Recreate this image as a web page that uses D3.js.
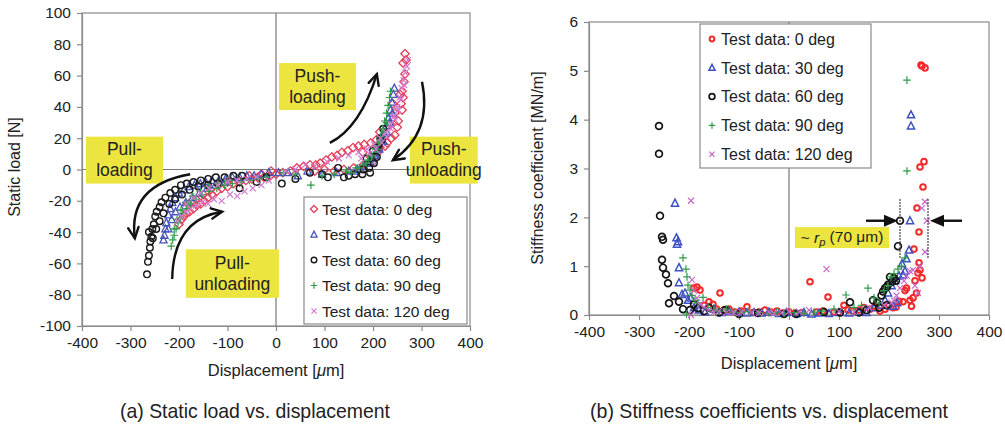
<!DOCTYPE html>
<html>
<head>
<meta charset="utf-8">
<script src="https://cdn.jsdelivr.net/npm/d3@7"></script>
<style>
  body { margin: 0; background: #fff; }
  svg text { font-family: "Liberation Sans", Arial, sans-serif; fill: #222; }
</style>
</head>
<body>
<svg id="fig" width="1005" height="434"></svg>
<script>
// ---- data: (a) static load [N] vs displacement [um]
const seriesNames = ["Test data: 0 deg", "Test data: 30 deg", "Test data: 60 deg", "Test data: 90 deg", "Test data: 120 deg"];

const load0 = [[-200,-35],[-195,-32],[-190,-30],[-185,-28],[-178,-27],[-170,-25],[-163,-23],[-155,-22],[-148,-20],[-140,-18],[-132,-16],[-122,-14],[-112,-12],[-100,-11],[-88,-9],[-75,-8],[-62,-7],[-50,-6],[-38,-5],[-25,-5],[-12,-4],[0,-3],[-180,-22],[-165,-19],[-150,-16],[-135,-13],[-118,-10],[-100,-8],[-80,-6],[-55,-4],[-30,-3],[-10,-1],
  [14,-2],[30,-1],[43,1],[57,2],[70,3],[82,3],[91,4],[103,6],[115,8],[126,9],[136,11],[148,12],[159,14],[170,15],[182,16],[195,17],[207,19],[214,14],[229,17],[245,22],[252,31],[260,38],[262,46],[260,50],[266,61],[262,68],[266,74],[268,70],[264,56],[258,42],[250,27],[238,20],[225,15],[210,11],[195,8],[179,11],[214,24],[235,29],[245,36],[241,42],[256,48],[200,5],[180,3],[160,1],[140,0],[120,-1],[100,0],[80,-1]];
const load30 = [[-232,-45],[-230,-42],[-228,-38],[-226,-34],[-222,-29],[-218,-25],[-214,-21],[-208,-18],[-200,-15],[-190,-13],[-180,-11],[-168,-10],[-156,-9],[-145,-8],[-132,-7],[-118,-7],[-104,-6],[-90,-5],[-75,-5],[-60,-4],[-45,-4],[-30,-3],[-15,-2],[-222,-38],[-215,-32],[-207,-27],[-198,-24],[-186,-21],[-172,-18],[-158,-15],[-142,-12],[-125,-10],[-105,-8],
  [5,-2],[25,-2],[45,-4],[65,-1],[95,-3],[125,-2],[150,-1],[168,0],[180,2],[190,4],[198,7],[205,10],[212,14],[218,18],[223,23],[228,28],[232,33],[236,38],[239,43],[242,48],[244,52],[240,36],[234,30],[228,24],[221,18],[213,13],[204,9],[194,5],[182,2],[165,-1]];
const load60 = [[-266,-67],[-264,-59],[-262,-55],[-260,-50],[-259,-46],[-257,-43],[-262,-40],[-255,-38],[-252,-35],[-249,-30],[-246,-27],[-240,-24],[-236,-21],[-228,-18],[-218,-15],[-208,-13],[-196,-10],[-184,-9],[-170,-8],[-155,-7],[-140,-6],[-124,-5],[-106,-5],[-88,-4],[-70,-4],[-254,-44],[-247,-38],[-240,-33],[-232,-28],[-220,-22],[-208,-19],[-194,-16],[-178,-13],[-160,-11],[-140,-10],[-120,-9],[-75,-12],[-40,-8],[-20,-5],[12,-9],
  [40,-6],[70,-2],[95,-3],[107,-5],[128,1],[140,-5],[163,-3],[180,0],[187,7],[194,-2],[200,12],[208,14],[212,16],[215,20],[218,19],[221,26],[208,8],[202,4],[192,1],[178,-3],[150,-4]];
const load90 = [[-216,-49],[-213,-45],[-210,-42],[-206,-38],[-202,-34],[-197,-31],[-192,-28],[-185,-25],[-176,-22],[-165,-19],[-152,-16],[-138,-14],[-122,-12],[-106,-10],[-90,-9],[-72,-8],[-55,-7],[-38,-6],[-20,-5],[-210,-38],[-204,-32],[-196,-26],[-186,-21],[-172,-17],[-156,-14],[-140,-11],[-120,-9],[-100,-7],
  [15,-2],[40,-3],[72,-10],[95,-4],[120,-3],[145,-1],[165,1],[180,3],[190,6],[198,9],[205,13],[211,17],[216,21],[220,26],[224,31],[228,36],[231,41],[234,46],[236,50],[228,30],[222,24],[215,18],[207,13],[197,8],[186,4],[172,1],[155,-2]];
const load120 = [[-202,-33],[-195,-30],[-186,-27],[-176,-25],[-165,-23],[-152,-21],[-140,-22],[-128,-19],[-112,-20],[-95,-16],[-80,-17],[-65,-14],[-48,-12],[-30,-10],[-15,-7],[-185,-22],[-170,-18],[-155,-15],[-138,-12],[-120,-10],[-100,-8],[-80,-7],[-60,-6],[-40,-5],
  [20,-1],[40,0],[60,3],[80,2],[105,5],[130,7],[150,9],[170,11],[188,13],[202,16],[215,20],[226,24],[236,29],[244,34],[250,40],[255,46],[259,52],[263,57],[267,62],[270,66],[272,70],[264,54],[258,45],[252,38],[245,32],[237,26],[228,21],[218,17],[206,13],[192,10],[176,7]];

// ---- data: (b) stiffness coefficient [MN/m] vs displacement [um]
const stiff0 = [[-190,0.55],[-184,0.57],[-178,0.51],[-170,0.2],[-160,0.27],[-152,0.22],[-145,0.12],[-138,0.45],[-130,0.1],[-120,0.12],[-108,0.06],[-96,0.08],[-84,0.17],[-72,0.05],[-60,0.06],[-48,0.1],[-36,0.06],[-24,0.08],[-12,0.04],[0,0.06],[12,0.04],[26,0.05],[42,0.68],[55,0.06],[68,0.08],[78,0.37],[90,0.06],[100,0.05],[110,0.2],[118,0.1],[128,0.08],[140,0.1],[150,0.15],[162,0.12],[172,0.18],[182,0.08],[192,0.12],[200,0.2],[208,0.15],[214,0.16],[220,0.28],[228,0.27],[235,0.55],[242,0.3],[248,0.35],[250,1.35],[252,0.7],[256,2.19],[258,0.86],[260,1.07],[260,1.7],[262,0.92],[266,0.76],[268,2.62],[262,3.03],[270,3.14],[264,5.12],[272,5.06],[266,5.1],[245,0.18],[232,0.5],[255,0.45]];
const stiff30 = [[-228,2.29],[-225,1.58],[-224,1.45],[-222,1.5],[-220,0.97],[-220,0.66],[-214,0.42],[-208,0.45],[-202,0.3],[-196,0.35],[-190,0.15],[-180,0.1],[-168,0.06],[-150,0.12],[-135,0.05],[-120,0.08],[-100,0.06],[-85,0.04],[-70,0.05],[-55,0.04],[-40,0.06],[-20,0.03],[-5,0.05],[15,0.03],[30,0.05],[45,0.02],[60,0.04],[80,0.03],[100,0.05],[120,0.04],[140,0.06],[155,0.05],[170,0.15],[182,0.2],[192,0.3],[198,0.45],[205,0.6],[212,0.7],[220,0.8],[226,1.05],[228,0.82],[232,0.9],[235,1.15],[240,1.33],[242,1.93],[244,3.87],[244,4.1],[216,0.25],[208,0.18]];
const stiff60 = [[-260,3.87],[-260,3.3],[-258,2.03],[-254,1.6],[-252,1.54],[-254,1.13],[-252,0.97],[-246,0.83],[-242,0.65],[-230,0.39],[-240,0.24],[-220,0.27],[-212,0.12],[-198,0.1],[-190,0.22],[-182,0.14],[-170,0.08],[-160,0.15],[-140,0.05],[-128,0.1],[-100,0.02],[-62,0.04],[-10,0.02],[15,0.02],[70,0.06],[102,0.05],[122,0.26],[140,0.05],[155,0.1],[168,0.3],[176,0.25],[185,0.4],[188,0.48],[192,0.55],[196,0.58],[198,0.62],[202,0.78],[206,0.68],[210,0.75],[214,0.7],[218,1.41],[222,1.93],[180,0.15],[195,0.2]];
const stiff90 = [[-212,1.17],[-206,0.94],[-204,0.78],[-202,0.61],[-198,0.51],[-194,0.4],[-188,0.3],[-182,0.25],[-172,0.36],[-162,0.15],[-150,0.1],[-140,0.08],[-125,0.12],[-110,0.06],[-95,0.05],[-80,0.07],[-60,0.05],[-40,0.04],[-25,0.06],[-10,0.03],[10,0.05],[30,0.04],[50,0.06],[66,0.08],[90,0.12],[114,0.41],[130,0.15],[145,0.2],[158,0.55],[170,0.35],[180,0.25],[190,0.5],[198,0.6],[204,0.78],[210,0.85],[218,0.94],[225,1.0],[232,1.17],[236,2.95],[236,4.81],[-205,0.02]];
const stiff120 = [[-196,2.34],[-194,0.72],[-190,0.5],[-184,0.35],[-178,0.22],[-170,0.16],[-160,0.1],[-150,0.06],[-140,0.08],[-125,0.05],[-110,0.04],[-95,0.06],[-75,0.05],[-60,0.04],[-40,0.06],[-30,0.03],[-15,0.05],[0,0.07],[20,0.06],[40,0.1],[75,0.94],[100,0.07],[130,0.06],[160,0.15],[190,0.2],[205,0.25],[215,0.4],[222,0.55],[230,0.7],[236,0.8],[242,0.9],[248,0.92],[252,0.6],[258,0.45],[266,2.19],[272,2.32],[276,1.93],[272,1.29],[262,1.0],[-196,0.0],[210,0.3]];

const xTicks = [-400, -300, -200, -100, 0, 100, 200, 300, 400];
const loadTicks = [-100, -80, -60, -40, -20, 0, 20, 40, 60, 80, 100];
const stiffTicks = [0, 1, 2, 3, 4, 5, 6];

// annotation boxes on (a): [x0, x1, y0, y1, line1, line2]
const loadNotes = [
  [6, 165, 68, 38, "Push-", "loading"],
  [-392, -233, 21, -9, "Pull-", "loading"],
  [276, 416, 21, -9, "Push-", "unloading"],
  [-186, 6, -51, -82, "Pull-", "unloading"]
];
// curved arrows on (a): [start, control, end]
const loadArrows = [
  [[111, 17], [174, 27], [208, 61]],
  [[301, 56], [323, 23], [241, 6]],
  [[-177, -3], [-306, -10], [-291, -44]],
  [[-214, -70], [-212, -32], [-111, -27]]
];
// r_p marker on (b)
const rpLines = [222, 278];
const rpRange = [1.17, 2.4];
const rpArrowY = 1.93;

const svg = d3.select("#fig");
svg.append("rect").attr("width", 1005).attr("height", 434).attr("fill", "#fff");

function markerPath(type, s) {
  if (type === "diamond") return `M0,${-s}L${s},0L0,${s}L${-s},0Z`;
  if (type === "triangle") return `M0,${-s}L${s * 0.9},${s * 0.75}L${-s * 0.9},${s * 0.75}Z`;
  if (type === "circle") return `M${s},0A${s},${s} 0 1,1 ${-s},0A${s},${s} 0 1,1 ${s},0Z`;
  if (type === "plus") return `M${-s},0H${s}M0,${-s}V${s}`;
  return `M${-s},${-s}L${s},${s}M${-s},${s}L${s},${-s}`;
}

function drawChart(opt) {
  const g = svg.append("g");
  const x = d3.scaleLinear().domain([-400, 400]).range(opt.xr);
  const y = d3.scaleLinear().domain(opt.yd).range(opt.yr);

  // frame
  g.append("rect").attr("x", opt.xr[0]).attr("y", opt.yr[1])
    .attr("width", opt.xr[1] - opt.xr[0]).attr("height", opt.yr[0] - opt.yr[1])
    .attr("fill", "none").attr("stroke", "#8a8a8a").attr("stroke-width", 1.2);

  // zero lines
  g.append("line").attr("x1", x(0)).attr("x2", x(0)).attr("y1", opt.yr[1]).attr("y2", opt.yr[0])
    .attr("stroke", "#777").attr("stroke-width", 1.2);
  if (opt.yd[0] < 0) {
    g.append("line").attr("x1", opt.xr[0]).attr("x2", opt.xr[1]).attr("y1", y(0)).attr("y2", y(0))
      .attr("stroke", "#777").attr("stroke-width", 1.2);
  }

  const fmt = d => String(d);
  const ax = g.append("g").attr("transform", `translate(0,${opt.yr[0]})`)
    .call(d3.axisBottom(x).tickValues(xTicks).tickFormat(fmt).tickSize(5).tickSizeOuter(0).tickPadding(6));
  const ay = g.append("g").attr("transform", `translate(${opt.xr[0]},0)`)
    .call(d3.axisLeft(y).tickValues(opt.yTicks).tickFormat(fmt).tickSize(5).tickSizeOuter(0).tickPadding(6));
  [ax, ay].forEach(a => {
    a.select(".domain").attr("stroke", "#8a8a8a").attr("stroke-width", 1.2);
    a.selectAll(".tick line").attr("stroke", "#8a8a8a").attr("stroke-width", 1.2);
    a.selectAll(".tick text").attr("font-size", 15.5).attr("fill", "#222")
      .style("font-family", "'Liberation Sans', Arial, sans-serif");
  });

  // annotations behind the points
  if (opt.before) opt.before(g, x, y);

  // points
  opt.series.forEach((s, i) => {
    g.append("g").selectAll("path").data(s.data).join("path")
      .attr("transform", d => `translate(${x(d[0])},${y(d[1])})`)
      .attr("d", markerPath(s.type, s.size))
      .attr("fill", "none").attr("stroke", s.color).attr("stroke-width", s.sw);
  });

  if (opt.after) opt.after(g, x, y);

  // legend
  const L = opt.legend;
  g.append("rect").attr("x", L.x).attr("y", L.y).attr("width", L.w).attr("height", L.h)
    .attr("fill", "#fff").attr("stroke", "#8a8a8a").attr("stroke-width", 1.2);
  opt.series.forEach((s, i) => {
    const yy = L.y0 + i * L.dy;
    g.append("path").attr("transform", `translate(${L.mx},${yy})`)
      .attr("d", markerPath(s.type, s.size * 0.85))
      .attr("fill", "none").attr("stroke", s.color).attr("stroke-width", s.sw);
    g.append("text").attr("x", L.tx).attr("y", yy).attr("dy", "0.36em")
      .attr("font-size", L.fs).text(seriesNames[i]);
  });

  // axis titles
  const xt = g.append("text").attr("x", x(0)).attr("y", opt.xTitleY)
    .attr("text-anchor", "middle").attr("font-size", 16.5);
  xt.append("tspan").text(opt.xTitle);
  xt.append("tspan").attr("font-style", "italic").text("\u03bc");
  xt.append("tspan").text("m]");

  g.append("text").attr("transform", `translate(${opt.yTitleX},${opt.yTitleY}) rotate(-90)`)
    .attr("text-anchor", "middle").attr("font-size", 16).text(opt.yTitle);

  // caption: a condensed face squeezed to the reference width
  g.append("text").attr("x", opt.capX).attr("y", 418).attr("text-anchor", "middle")
    .attr("font-size", 21)
    .attr("textLength", opt.capW).attr("lengthAdjust", "spacingAndGlyphs")
    .text(opt.caption);
}

const yellow = "#ece53f";

function arrowHead(g, tip, from, len, ang) {
  const a = Math.atan2(tip[1] - from[1], tip[0] - from[0]);
  const p1 = [tip[0] - len * Math.cos(a - ang), tip[1] - len * Math.sin(a - ang)];
  const p2 = [tip[0] - len * Math.cos(a + ang), tip[1] - len * Math.sin(a + ang)];
  g.append("path").attr("d", `M${p1}L${tip}L${p2}`)
    .attr("fill", "none").attr("stroke", "#111").attr("stroke-width", 2.4)
    .attr("stroke-linejoin", "miter").attr("stroke-linecap", "round");
}

drawChart({
  xr: [82, 470], yd: [-100, 100], yr: [326, 13], yTicks: loadTicks,
  xTitle: "Displacement  [", xTitleY: 376,
  yTitle: "Static load  [N]", yTitleX: 20, yTitleY: 167,
  caption: "(a) Static load vs. displacement", capX: 255, capW: 270,
  series: [
    { data: load0, type: "diamond", size: 4.2, color: "#e5405a", sw: 1.3 },
    { data: load30, type: "triangle", size: 4, color: "#4654bd", sw: 1.3 },
    { data: load60, type: "circle", size: 3.3, color: "#1a1a1a", sw: 1.4 },
    { data: load90, type: "plus", size: 3.8, color: "#2f9a48", sw: 1.2 },
    { data: load120, type: "x", size: 3, color: "#d27ad0", sw: 1.2 }
  ],
  legend: { x: 304, y: 197, w: 163, h: 127, y0: 209, dy: 25.5, mx: 314, tx: 322, fs: 15.5 },
  before: (g, x, y) => {
    loadNotes.forEach(n => {
      const x0 = x(n[0]), x1 = x(n[1]), y0 = y(n[2]), y1 = y(n[3]);
      g.append("rect").attr("x", x0).attr("y", y0).attr("width", x1 - x0).attr("height", y1 - y0)
        .attr("fill", yellow);
      const cx = (x0 + x1) / 2, cy = (y0 + y1) / 2;
      g.append("text").attr("x", cx).attr("y", cy - 11).attr("dy", "0.36em")
        .attr("text-anchor", "middle").attr("font-size", 17.5).text(n[4]);
      g.append("text").attr("x", cx).attr("y", cy + 10).attr("dy", "0.36em")
        .attr("text-anchor", "middle").attr("font-size", 17.5).text(n[5]);
    });
  },
  after: (g, x, y) => {
    loadArrows.forEach(a => {
      const p = a.map(d => [x(d[0]), y(d[1])]);
      g.append("path").attr("d", `M${p[0]}Q${p[1]} ${p[2]}`)
        .attr("fill", "none").attr("stroke", "#111").attr("stroke-width", 2.4);
      arrowHead(g, p[2], p[1], 12, 0.45);
    });
  }
});

drawChart({
  xr: [589, 989], yd: [0, 6], yr: [315, 22], yTicks: stiffTicks,
  xTitle: "Displacement [", xTitleY: 369,
  yTitle: "Stiffness coefficient  [MN/m]", yTitleX: 543, yTitleY: 168,
  caption: "(b) Stiffness coefficients vs. displacement", capX: 769, capW: 358,
  series: [
    { data: stiff0, type: "circle", size: 2.8, color: "#f42a2a", sw: 2 },
    { data: stiff30, type: "triangle", size: 4, color: "#3e52c4", sw: 1.5 },
    { data: stiff60, type: "circle", size: 3.4, color: "#151515", sw: 1.7 },
    { data: stiff90, type: "plus", size: 3.8, color: "#2f9a48", sw: 1.2 },
    { data: stiff120, type: "x", size: 3, color: "#c46ac4", sw: 1.2 }
  ],
  legend: { x: 700, y: 24, w: 171, h: 144, y0: 39, dy: 28.8, mx: 712, tx: 721, fs: 16 },
  after: (g, x, y) => {
    rpLines.forEach(v => {
      g.append("line").attr("x1", x(v)).attr("x2", x(v)).attr("y1", y(rpRange[0])).attr("y2", y(rpRange[1]))
        .attr("stroke", "#444").attr("stroke-width", 1.6).attr("stroke-dasharray", "1.5,1.5");
    });
    const ay = y(rpArrowY);
    const xl = x(rpLines[0]), xr = x(rpLines[1]);
    g.append("line").attr("x1", xl - 34).attr("x2", xl - 10).attr("y1", ay).attr("y2", ay)
      .attr("stroke", "#111").attr("stroke-width", 2.4);
    g.append("path").attr("d", `M${xl - 2},${ay}L${xl - 16},${ay - 6}L${xl - 16},${ay + 6}Z`).attr("fill", "#111");
    g.append("line").attr("x1", xr + 34).attr("x2", xr + 10).attr("y1", ay).attr("y2", ay)
      .attr("stroke", "#111").attr("stroke-width", 2.4);
    g.append("path").attr("d", `M${xr + 2},${ay}L${xr + 16},${ay - 6}L${xr + 16},${ay + 6}Z`).attr("fill", "#111");

    const bx0 = x(12), bx1 = x(200), by0 = y(1.8), by1 = y(1.37);
    g.append("rect").attr("x", bx0).attr("y", by0).attr("width", bx1 - bx0).attr("height", by1 - by0)
      .attr("fill", yellow);
    const t = g.append("text").attr("x", (bx0 + bx1) / 2).attr("y", (by0 + by1) / 2).attr("dy", "0.36em")
      .attr("text-anchor", "middle").attr("font-size", 15.5);
    t.append("tspan").text("~ ");
    t.append("tspan").attr("font-style", "italic").text("r");
    t.append("tspan").attr("font-style", "italic").attr("font-size", 11).attr("dy", "0.3em").text("p");
    t.append("tspan").attr("dy", "-0.3em").text(" (70 \u03bcm)");
  }
});
</script>
</body>
</html>
